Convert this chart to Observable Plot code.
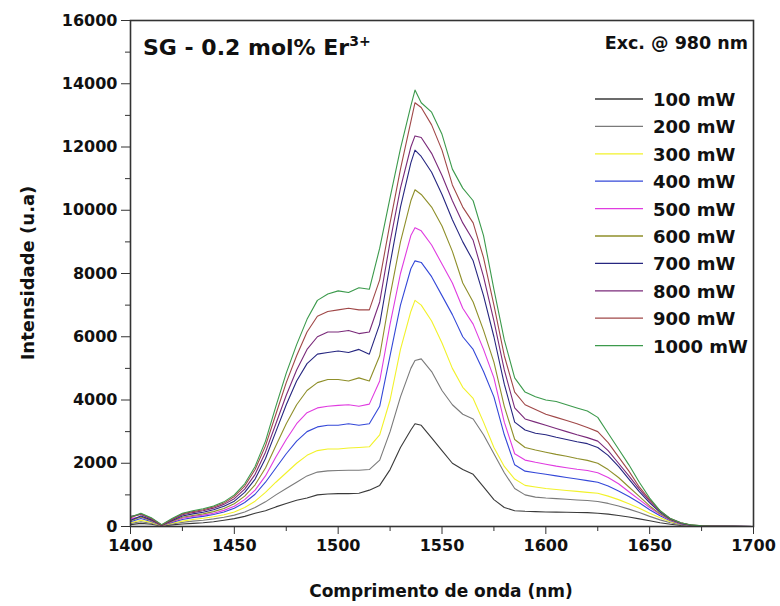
<!DOCTYPE html>
<html><head><meta charset="utf-8">
<script src="https://cdn.jsdelivr.net/npm/d3@7"></script>
<script src="https://cdn.jsdelivr.net/npm/@observablehq/plot@0.6"></script>
<style>
body{margin:0;background:#fff;}
#wrap{position:relative;width:780px;height:606px;font-family:"DejaVu Sans",sans-serif;}
#overlay{position:absolute;left:0;top:0;pointer-events:none;}
</style></head><body><div id="wrap"></div>
<script>
const wavelengths = [1400,1405,1410,1415,1420,1425,1430,1435,1440,1445,1450,1455,1460,1465,1470,1475,1480,1485,1490,1495,1500,1505,1510,1515,1520,1525,1530,1535,1537,1540,1545,1550,1555,1560,1565,1570,1575,1580,1585,1590,1595,1600,1605,1610,1615,1620,1625,1630,1635,1640,1645,1650,1655,1660,1665,1670,1675,1680,1690,1700];

const s100 = [60,100,70,15,50,80,100,120,150,200, 250,320,420,500,620,730,830,900,1000,1030, 1040,1040,1050,1150,1300,1800,2500,3050, 3250, 3200,2800,2400,2000,1800,1650,1250,850,600,500, 480,470,460,455,450,445,440,420,390,350, 300,240,180,120,70,30,10,5,3, 1,0];
const s200 = [100,150,100,20,80,130,170,200,240,290, 360,460,600,780,1000,1200,1400,1600,1720,1760, 1770,1780,1780,1800,2100,3000,4100,5000, 5250, 5300,4900,4300,3850,3550,3400,2900,2300,1700,1200, 1000,930,900,880,860,840,820,790,730,650, 550,440,320,210,120,60,20,8,4, 2,0];
const s300 = [120,200,130,25,100,170,220,260,310,370, 460,600,800,1080,1400,1700,2000,2250,2400,2450, 2450,2480,2500,2520,2900,4000,5600,6800, 7150, 7000,6500,5800,5000,4400,4050,3300,2500,1900,1500, 1300,1250,1200,1170,1140,1110,1080,1050,960,850, 720,580,420,280,150,70,30,10,5, 2,0];
const s400 = [150,250,160,30,130,220,280,320,380,460, 580,760,1020,1400,1850,2300,2700,3000,3150,3200, 3200,3250,3200,3250,3800,5400,7000,8150, 8400, 8350,7900,7300,6700,6000,5600,4900,4100,2900,1950, 1750,1700,1650,1600,1550,1500,1450,1400,1280,1120, 950,750,530,340,180,80,30,12,6, 3,0];
const s500 = [250,300,180,30,150,260,320,360,420,510, 640,850,1150,1600,2200,2750,3250,3600,3750,3800, 3830,3850,3800,3870,4600,6400,8000,9200, 9450, 9350,8900,8300,7700,6900,6400,5600,4700,3300,2300, 2100,2030,1970,1910,1860,1810,1770,1700,1550,1350, 1100,850,600,380,200,90,30,12,6, 3,0];
const s600 = [180,300,190,35,170,290,350,400,470,570, 720,960,1320,1850,2550,3250,3850,4300,4550,4650, 4650,4600,4700,4600,5400,7300,9000,10300, 10650, 10500,10100,9500,8700,7700,7100,6200,5200,3800,2750, 2500,2420,2350,2280,2220,2150,2090,2000,1800,1550, 1250,950,650,400,210,100,40,15,8, 4,0];
const s700 = [200,330,210,40,190,330,400,450,530,640, 800,1080,1500,2150,3000,3850,4600,5150,5450,5500, 5550,5500,5600,5450,6400,8300,10100,11500, 11900, 11700,11200,10500,9700,9000,8400,7300,6000,4500,3300, 3050,2950,2900,2820,2750,2680,2620,2500,2250,1900, 1500,1100,750,450,230,100,40,15,8, 4,0];
const s800 = [320,380,240,40,210,370,440,500,580,700, 880,1180,1650,2350,3250,4150,4950,5600,6000,6150, 6150,6200,6100,6150,7100,9000,10700,12000, 12350, 12300,11800,11100,10300,9600,9050,7900,6500,4950,3750, 3400,3300,3200,3100,3000,2900,2810,2700,2400,2000, 1600,1180,800,480,240,110,40,15,8, 4,0];
const s900 = [280,400,260,50,230,400,470,530,620,740, 950,1280,1800,2550,3550,4550,5400,6150,6650,6800, 6850,6900,6850,6850,7800,9600,11300,12800, 13400, 13250,12700,11900,10800,10100,9600,8500,7000,5400,4250, 3850,3700,3550,3450,3350,3250,3130,3000,2650,2200, 1750,1250,850,500,250,120,50,20,10, 5,0];
const s1000 = [300,420,280,60,250,420,500,560,650,780, 1000,1350,1900,2700,3800,4850,5750,6550,7150,7350, 7450,7400,7550,7500,8800,10400,11950,13300, 13800, 13400,13100,12400,11300,10700,10300,9200,7500,5900,4700, 4250,4100,4000,3950,3850,3750,3650,3450,2950,2450, 1950,1400,900,500,250,120,50,20,10, 5,0];

const powers = ["100 mW","200 mW","300 mW","400 mW","500 mW","600 mW","700 mW","800 mW","900 mW","1000 mW"];
const colors = ["#3a3a3a","#7a7a7a","#f2f22a","#3448d8","#e03ce0","#8f8f2a","#262680","#7a2a7a","#a04848","#3c9a4c"];
const seriesValues = [s100,s200,s300,s400,s500,s600,s700,s800,s900,s1000];
const xTicks = [1400,1450,1500,1550,1600,1650,1700];
const xMinorTicks = [1425,1475,1525,1575,1625,1675];
const yTicks = [0,2000,4000,6000,8000,10000,12000,14000,16000];
const yMinorTicks = [1000,3000,5000,7000,9000,11000,13000,15000];
const titleMain = "SG - 0.2 mol% Er";
const titleSup = "3+";
const excText = "Exc. @ 980 nm";
const xLabel = "Comprimento de onda (nm)";
const yLabel = "Intensidade (u.a)";

const rows = [];
powers.forEach((p, i) => wavelengths.forEach((w, j) => rows.push({wl: w, I: seriesValues[i][j], power: p})));

const W = 780, H = 606, mL = 130, mR = 27, mT = 20, mB = 80;

const plot = Plot.plot({
  width: W, height: H, marginLeft: mL, marginRight: mR, marginTop: mT, marginBottom: mB,
  style: {fontFamily: "DejaVu Sans, sans-serif", fontSize: "16px", fontWeight: "bold", color: "#111", background: "#fff"},
  x: {domain: [1400, 1700]},
  y: {domain: [0, 16000]},
  color: {domain: powers, range: colors},
  marks: [
    Plot.line(rows, {x: "wl", y: "I", z: "power", stroke: "power", strokeWidth: 1.1}),
    Plot.frame({stroke: "#333", strokeWidth: 1.6}),
    Plot.axisX({ticks: xTicks, tickSize: 8, tickPadding: 5, tickFormat: d => String(d), label: null, stroke: "#333"}),
    Plot.axisX({ticks: xMinorTicks, tickSize: 5, text: null, label: null, stroke: "#333"}),
    Plot.axisY({ticks: yTicks, tickSize: 9, tickPadding: 4, tickFormat: d => String(d), label: null, stroke: "#333"}),
    Plot.axisY({ticks: yMinorTicks, tickSize: 5, text: null, label: null, stroke: "#333"})
  ]
});
const wrap = document.getElementById("wrap");
wrap.appendChild(plot);

const ov = d3.select(wrap).append("svg").attr("id", "overlay").attr("width", W).attr("height", H)
  .style("font-family", "DejaVu Sans, sans-serif").style("font-weight", "bold");

const t = ov.append("text").attr("x", 143).attr("y", 55).attr("font-size", 22).attr("fill", "#111");
t.append("tspan").text(titleMain);
t.append("tspan").attr("dy", -9).attr("font-size", 14).text(titleSup);

ov.append("text").attr("x", 748).attr("y", 49).attr("text-anchor", "end").attr("font-size", 17.5).attr("fill", "#111").text(excText);

powers.forEach((p, i) => {
  const y = 99 + i * 27.4;
  ov.append("line").attr("x1", 595).attr("x2", 643).attr("y1", y).attr("y2", y)
    .attr("stroke", colors[i]).attr("stroke-width", 1.3);
  ov.append("text").attr("x", 653).attr("y", y + 7).attr("font-size", 18).attr("fill", "#111").text(p);
});

ov.append("text").attr("x", 441).attr("y", 597).attr("text-anchor", "middle").attr("font-size", 17).attr("fill", "#111").text(xLabel);
ov.append("text").attr("transform", "translate(34,273) rotate(-90)").attr("text-anchor", "middle").attr("font-size", 18).attr("fill", "#111").text(yLabel);
</script></body></html>
